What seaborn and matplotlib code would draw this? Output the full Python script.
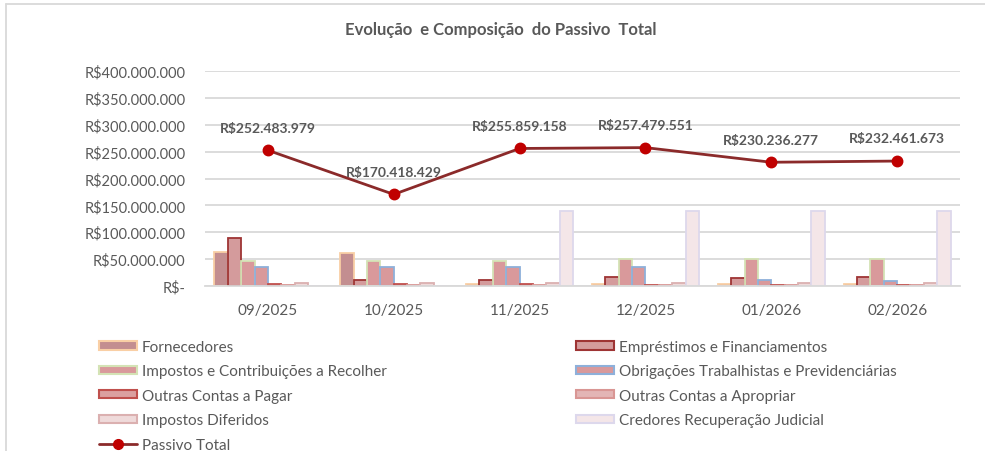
import matplotlib
matplotlib.use("Agg")
import matplotlib.pyplot as plt
import seaborn as sns
import pandas as pd
import numpy as np
from matplotlib.patches import Patch
from matplotlib.lines import Line2D
from matplotlib.ticker import FuncFormatter

# ---------------- data ----------------
months = ["09/2025", "10/2025", "11/2025", "12/2025", "01/2026", "02/2026"]
fornecedores = [64e6, 61e6, 3e6, 3e6, 3e6, 3e6]
emprestimos = [89e6, 10.6e6, 10.6e6, 17e6, 14e6, 17e6]
impostos_recolher = [47e6, 47e6, 47e6, 50e6, 50e6, 50e6]
obrigacoes = [36e6, 35e6, 35e6, 35e6, 10.6e6, 8.7e6]
outras_pagar = [4e6, 4e6, 4e6, 1e6, 1e6, 1e6]
outras_apropriar = [1.5e6, 1.5e6, 1.5e6, 2e6, 2e6, 2e6]
impostos_diferidos = [5e6, 5e6, 5e6, 5e6, 5e6, 5e6]
credores_rj = [0, 0, 140e6, 140e6, 140e6, 140e6]
passivo_total = [252483979, 170418429, 255859158, 257479551, 230236277, 232461673]

series_names = ["Fornecedores", "Empréstimos e Financiamentos",
                "Impostos e Contribuições a Recolher", "Obrigações Trabalhistas e Previdenciárias",
                "Outras Contas a Pagar", "Outras Contas a Apropriar",
                "Impostos Diferidos", "Credores Recuperação Judicial"]
series_values = [fornecedores, emprestimos, impostos_recolher, obrigacoes,
                 outras_pagar, outras_apropriar, impostos_diferidos, credores_rj]
fills = ["#c38e90", "#d49b9c", "#d9999b", "#d9999b", "#dba0a0", "#e3b5b5", "#efdada", "#f4e6e8"]
edges = ["#f9cfa5", "#9e3434", "#d4e3b5", "#8eb0da", "#c0504d", "#d99694", "#dbb0b0", "#ddd8ec"]

rows = []
for name, vals in zip(series_names, series_values):
    for m, v in zip(months, vals):
        rows.append({"Mês": m, "Conta": name, "Valor": v})
df = pd.DataFrame(rows)

# ---------------- style ----------------
sns.set_theme(style="white")
plt.rcParams["font.family"] = ["Lato", "DejaVu Sans"]
gray = "#595959"

fig = plt.figure(figsize=(9.85, 4.52), dpi=100)
ax = fig.add_axes([205 / 985, 1 - 287 / 452, 755 / 985, 215 / 452])

sns.barplot(data=df, x="Mês", y="Valor", hue="Conta", order=months, hue_order=series_names,
            width=0.85, ax=ax, legend=False, errorbar=None, linewidth=1.2)

n = len(months)
bars = [p for p in ax.patches]
for i, p in enumerate(bars[: n * len(series_names)]):
    k = i // n
    p.set_facecolor(fills[k])
    p.set_edgecolor(edges[k])
    p.set_linewidth(1.3)

sns.pointplot(x=months, y=passivo_total, ax=ax, color="#8b2a2a", markers="o",
              linestyles="-", errorbar=None, native_scale=False)
ln = ax.lines[-1]
ln.set_linewidth(2.0)
ln.set_markersize(6.5)
ln.set_markerfacecolor("#c00000")
ln.set_markeredgecolor("#c00000")
ln.set_zorder(5)

for i, v in enumerate(passivo_total):
    lbl = "R$" + f"{v:,.0f}".replace(",", ".")
    ax.annotate(lbl, (i, v), xytext=(0, 12), textcoords="offset points", ha="center",
                va="bottom", fontsize=10, fontweight="bold", color=gray, zorder=6)

ax.set_ylim(0, 400e6)
ax.set_xlim(-0.5, n - 0.5)
ax.set_yticks(np.arange(0, 400e6 + 1, 50e6))
ax.yaxis.set_major_formatter(FuncFormatter(
    lambda v, p: "R$-" if v == 0 else "R$" + f"{v:,.0f}".replace(",", ".")))
ax.grid(axis="y", color="#d9d9d9", linewidth=1.3)
ax.set_axisbelow(True)
for s in ["top", "right", "left"]:
    ax.spines[s].set_visible(False)
ax.spines["bottom"].set_color("#d9d9d9")
ax.spines["bottom"].set_linewidth(1.3)
ax.tick_params(axis="y", length=0, pad=14, labelsize=10.5, labelcolor=gray)
ax.tick_params(axis="x", length=0, pad=12, labelsize=11, labelcolor=gray)
ax.set_xlabel("")
ax.set_ylabel("")

fig.text(501 / 985, 1 - 30 / 452, "Evolução  e Composição  do Passivo  Total", ha="center",
         va="center", fontsize=12, fontweight="bold", color=gray)

def h(k):
    return Patch(facecolor=fills[k], edgecolor=edges[k], linewidth=1.5)

line_handle = Line2D([], [], color="#8b2a2a", linewidth=2, marker="o", markersize=7,
                     markerfacecolor="#c00000", markeredgecolor="#c00000")
col1 = [h(0), h(2), h(4), h(6), line_handle]
col1_l = [series_names[0], series_names[2], series_names[4], series_names[6], "Passivo Total"]
col2 = [h(1), h(3), h(5), h(7)]
col2_l = [series_names[1], series_names[3], series_names[5], series_names[7]]
kw = dict(frameon=False, fontsize=11, labelcolor=gray, handlelength=2.5, handleheight=0.45,
          handletextpad=0.3, labelspacing=0.68, borderaxespad=0, borderpad=0, loc="upper left")
fig.legend(col1, col1_l, bbox_to_anchor=(99 / 985, 1 - 341 / 452), **kw)
fig.legend(col2, col2_l, bbox_to_anchor=(576 / 985, 1 - 341 / 452), **kw)

fig.add_artist(Line2D([6 / 985, 6 / 985], [0, 1 - 5 / 452], color="#d9d9d9", linewidth=1.3))
fig.add_artist(Line2D([6 / 985, 1], [1 - 5 / 452, 1 - 5 / 452], color="#d9d9d9", linewidth=1.3))

fig.savefig("out.png", dpi=100)
